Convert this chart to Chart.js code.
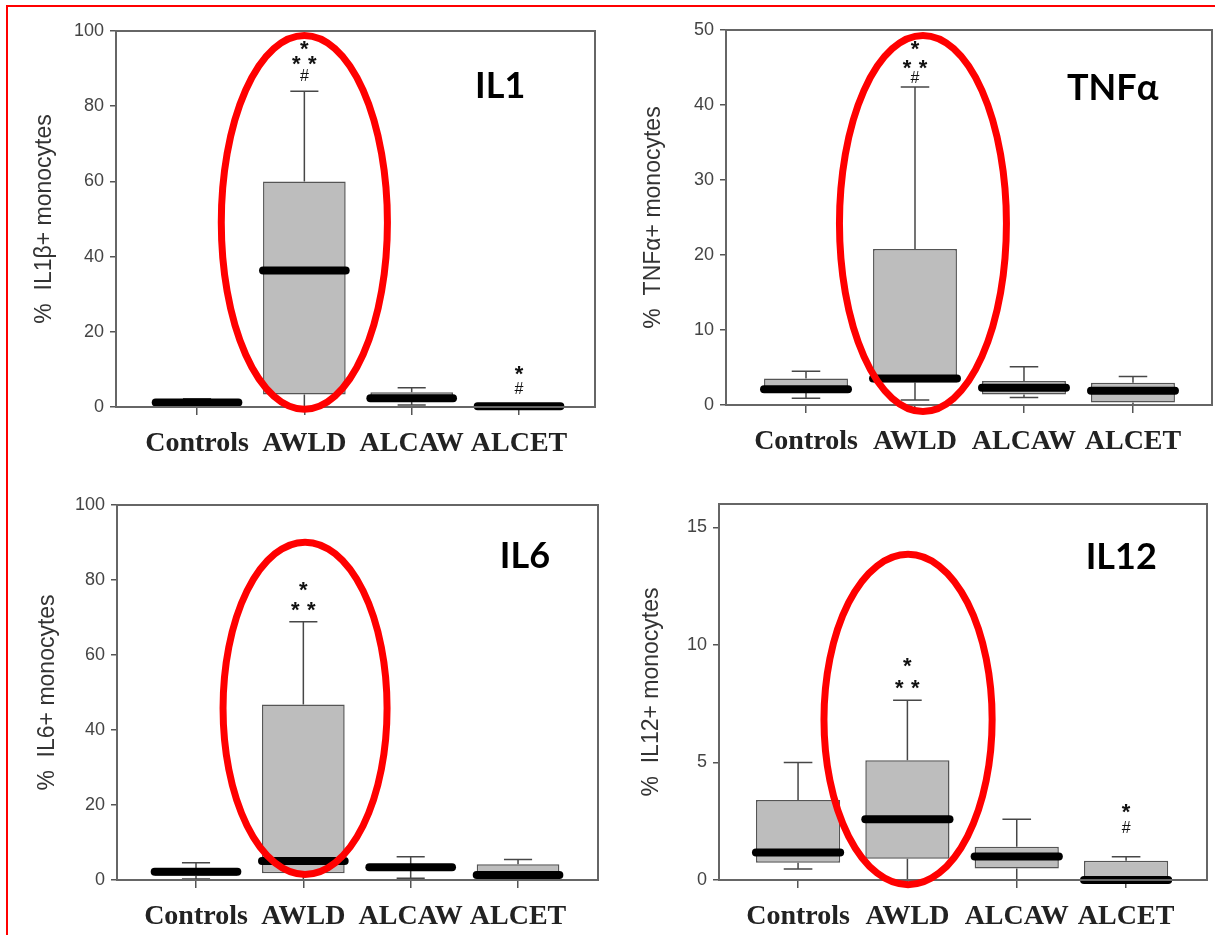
<!DOCTYPE html>
<html>
<head>
<meta charset="utf-8">
<script src="https://cdn.jsdelivr.net/npm/chart.js@4.4.0/dist/chart.umd.min.js"></script>
<style>
  html, body { margin: 0; padding: 0; background: #fff; }
  body { width: 1215px; height: 935px; position: relative; overflow: hidden; }
  canvas { position: absolute; }
  .red-frame { position: absolute; left: 6px; top: 5px; width: 1230px; height: 950px;
    border-top: 2px solid #ff0000; border-left: 2px solid #ff0000; pointer-events: none; }
</style>
</head>
<body>
<canvas id="il1" width="610" height="470" style="left:0;top:0"></canvas>
<canvas id="tnf" width="605" height="470" style="left:610px;top:0"></canvas>
<canvas id="il6" width="610" height="465" style="left:0;top:470px"></canvas>
<canvas id="il12" width="605" height="465" style="left:610px;top:470px"></canvas>
<div class="red-frame"></div>
<script>
const categories = ["Controls", "AWLD", "ALCAW", "ALCET"];

// IL1beta
const il1Min = [0.3, 0, 0.5, 0];
const il1Q1 = [0.6, 3.3, 1.4, 0];
const il1Median = [1.2, 36.3, 2.3, 0.2];
const il1Q3 = [1.8, 60, 3.9, 0.5];
const il1Max = [2.2, 84, 5.1, 0.6];
const il1Ticks = [0, 20, 40, 60, 80, 100];
const il1MarkX = [2, 2, 2, 4, 4];
const il1MarkY = [96.7, 92.7, 88.3, 10.4, 5.05];
const il1MarkText = ["*", "**", "#", "*", "#"];

// TNF alpha
const tnfMin = [0.9, 0.66, 1.0, 0];
const tnfQ1 = [1.6, 3.0, 1.4, 0.35];
const tnfMedian = [2.1, 3.55, 2.3, 1.9];
const tnfQ3 = [3.55, 20.8, 3.2, 2.97];
const tnfMax = [4.5, 42.4, 5.1, 3.8];
const tnfTicks = [0, 10, 20, 30, 40, 50];
const tnfMarkX = [2, 2, 2];
const tnfMarkY = [48.3, 45.7, 43.7];
const tnfMarkText = ["*", "**", "#"];

// IL6
const il6Min = [0.3, 0, 0.45, 0];
const il6Q1 = [1.15, 1.8, 2.7, 0.3];
const il6Median = [2.2, 5.07, 3.4, 1.33];
const il6Q3 = [3.1, 46.8, 4.0, 4.2];
const il6Max = [4.6, 68.9, 6.2, 5.5];
const il6Ticks = [0, 20, 40, 60, 80, 100];
const il6MarkX = [2, 2];
const il6MarkY = [78.9, 73.5];
const il6MarkText = ["*", "**"];

// IL12
const il12Min = [0.47, 0, 0, 0];
const il12Q1 = [0.73, 0.9, 0.49, 0];
const il12Median = [1.17, 2.59, 1.0, 0];
const il12Q3 = [3.4, 5.1, 1.41, 0.82];
const il12Max = [5.0, 7.65, 2.58, 0.99];
const il12Ticks = [0, 5, 10, 15];
const il12MarkX = [2, 2, 4, 4];
const il12MarkY = [9.38, 8.42, 3.14, 2.25];
const il12MarkText = ["*", "**", "*", "#"];

const panels = [
  {
    id: "il1", label: "IL1", yTitle: "%  IL1β+ monocytes", yMax: 100, ticks: il1Ticks,
    min: il1Min, q1: il1Q1, median: il1Median, q3: il1Q3, max: il1Max,
    markX: il1MarkX, markY: il1MarkY, markText: il1MarkText,
    labelAt: [3.59, 82.2], ellipse: [2.0, 49.1, 0.774, 49.7],
    xMin: 0.245, xMax: 4.708,
    layout: { top: 31, right: 15, yWidth: 116, xHeight: 63, titlePad: 31 },
  },
  {
    id: "tnf", label: "TNFα", yTitle: "%  TNFα+ monocytes", yMax: 50, ticks: tnfTicks,
    min: tnfMin, q1: tnfQ1, median: tnfMedian, q3: tnfQ3, max: tnfMax,
    markX: tnfMarkX, markY: tnfMarkY, markText: tnfMarkText,
    labelAt: [3.394, 40.7], ellipse: [2.073, 24.2, 0.766, 25.07],
    xMin: 0.266, xMax: 4.725,
    layout: { top: 30, right: 3, yWidth: 116, xHeight: 65, titlePad: 30 },
  },
  {
    id: "il6", label: "IL6", yTitle: "%  IL6+ monocytes", yMax: 100, ticks: il6Ticks,
    min: il6Min, q1: il6Q1, median: il6Median, q3: il6Q3, max: il6Max,
    markX: il6MarkX, markY: il6MarkY, markText: il6MarkText,
    labelAt: [3.83, 83.2], ellipse: [2.016, 45.8, 0.764, 44.3],
    xMin: 0.264, xMax: 4.745,
    layout: { top: 35, right: 12, yWidth: 117, xHeight: 55, titlePad: 34 },
  },
  {
    id: "il12", label: "IL12", yTitle: "%  IL12+ monocytes", yMax: 16, ticks: il12Ticks,
    min: il12Min, q1: il12Q1, median: il12Median, q3: il12Q3, max: il12Max,
    markX: il12MarkX, markY: il12MarkY, markText: il12MarkText,
    labelAt: [3.63, 13.25], ellipse: [2.006, 6.83, 0.769, 7.03],
    xMin: 0.277, xMax: 4.74,
    layout: { top: 34, right: 8, yWidth: 109, xHeight: 55, titlePad: 28 },
  },
];

function boxPlotPlugin(p) {
  return {
    id: "boxplot_" + p.id,
    beforeDatasetsDraw(chart) {
      const { ctx, scales: { x, y } } = chart;
      const bars = chart.getDatasetMeta(0).data;
      ctx.save();
      ctx.strokeStyle = "#474747";
      ctx.lineWidth = 1.5;
      categories.forEach((c, i) => {
        const px = x.getPixelForValue(i + 1);
        const half = bars[i].width * 0.17;
        ctx.beginPath();
        ctx.moveTo(px, y.getPixelForValue(p.max[i]));
        ctx.lineTo(px, y.getPixelForValue(p.q3[i]));
        ctx.moveTo(px, y.getPixelForValue(p.q1[i]));
        ctx.lineTo(px, y.getPixelForValue(p.min[i]));
        ctx.moveTo(px - half, y.getPixelForValue(p.max[i]));
        ctx.lineTo(px + half, y.getPixelForValue(p.max[i]));
        ctx.moveTo(px - half, y.getPixelForValue(p.min[i]));
        ctx.lineTo(px + half, y.getPixelForValue(p.min[i]));
        ctx.stroke();
      });
      ctx.restore();
    },
    afterDatasetsDraw(chart) {
      const { ctx, scales: { y } } = chart;
      const bars = chart.getDatasetMeta(0).data;
      ctx.save();
      ctx.strokeStyle = "#000";
      ctx.lineWidth = 8;
      ctx.lineCap = "round";
      categories.forEach((c, i) => {
        const b = bars[i];
        const py = y.getPixelForValue(p.median[i]);
        ctx.beginPath();
        ctx.moveTo(b.x - b.width / 2, py);
        ctx.lineTo(b.x + b.width / 2, py);
        ctx.stroke();
      });
      ctx.restore();
    },
    afterDraw(chart) {
      const { ctx, chartArea: a, scales: { x, y } } = chart;
      ctx.save();
      // plot frame
      ctx.strokeStyle = "#666";
      ctx.lineWidth = 2;
      ctx.strokeRect(a.left, a.top, a.right - a.left, a.bottom - a.top);

      // significance marks
      ctx.fillStyle = "#111";
      ctx.textAlign = "center";
      ctx.textBaseline = "alphabetic";
      p.markText.forEach((t, i) => {
        const px = x.getPixelForValue(p.markX[i]);
        const py = y.getPixelForValue(p.markY[i]);
        if (t === "#") {
          ctx.font = "16px 'Liberation Sans', Arial, sans-serif";
          ctx.fillText(t, px, py + 6);
        } else {
          ctx.font = "bold 22px 'Liberation Sans', Arial, sans-serif";
          if (t.length === 2) {
            ctx.fillText("*", px - 8, py + 13);
            ctx.fillText("*", px + 8, py + 13);
          } else {
            ctx.fillText(t, px, py + 13);
          }
        }
      });

      // panel label
      ctx.fillStyle = "#000";
      ctx.textAlign = "left";
      ctx.font = "bold 36px Lato, 'Noto Sans', sans-serif";
      ctx.fillText(p.label, x.getPixelForValue(p.labelAt[0]), y.getPixelForValue(p.labelAt[1]));

      // red highlight ellipse
      const [cx, cy, rx, ry] = p.ellipse;
      const ex = x.getPixelForValue(cx);
      const ey = y.getPixelForValue(cy);
      const erx = Math.abs(x.getPixelForValue(cx + rx) - ex);
      const ery = Math.abs(y.getPixelForValue(cy + ry) - ey);
      ctx.strokeStyle = "#ff0000";
      ctx.lineWidth = 7;
      ctx.beginPath();
      ctx.ellipse(ex, ey, erx, ery, 0, 0, Math.PI * 2);
      ctx.stroke();
      ctx.restore();
    },
  };
}

function renderPanel(p) {
  const canvas = document.getElementById(p.id);
  return new Chart(canvas, {
    type: "bar",
    data: {
      datasets: [{
        data: categories.map((c, i) => ({ x: i + 1, y: [p.q1[i], p.q3[i]] })),
        backgroundColor: "#bdbdbd",
        borderColor: "#555",
        borderWidth: 1.5,
        borderSkipped: false,
        categoryPercentage: 1,
        barPercentage: 0.77,
      }],
    },
    options: {
      responsive: false,
      animation: false,
      layout: { padding: { top: p.layout.top, right: p.layout.right, left: 0, bottom: 0 } },
      plugins: {
        legend: { display: false },
        tooltip: { enabled: false },
      },
      scales: {
        x: {
          type: "linear",
          min: p.xMin,
          max: p.xMax,
          offset: false,
          afterBuildTicks: (s) => { s.ticks = categories.map((c, i) => ({ value: i + 1 })); },
          afterFit: (s) => { s.height = p.layout.xHeight; },
          grid: { display: true, offset: false, drawOnChartArea: false, drawTicks: true, tickLength: 8, color: "#555", lineWidth: 1.5 },
          border: { display: true, color: "#555", width: 2 },
          ticks: {
            autoSkip: false,
            maxRotation: 0,
            padding: 12,
            color: "#222",
            font: { family: "'Liberation Serif', 'Times New Roman', serif", size: 28, weight: "bold" },
            callback: (v, i) => categories[i],
          },
        },
        y: {
          min: 0,
          max: p.yMax,
          afterBuildTicks: (s) => { s.ticks = p.ticks.map((v) => ({ value: v })); },
          afterFit: (s) => { s.width = p.layout.yWidth; },
          grid: { display: true, drawOnChartArea: false, drawTicks: true, tickLength: 6, color: "#555", lineWidth: 1.5 },
          border: { display: true, color: "#555", width: 2 },
          ticks: {
            padding: 6,
            color: "#444",
            font: { family: "'Liberation Sans', Arial, sans-serif", size: 18 },
          },
          title: {
            display: true,
            text: p.yTitle,
            color: "#333",
            padding: { top: p.layout.titlePad, bottom: 0 },
            font: { family: "'Liberation Sans', Arial, sans-serif", size: 23 },
          },
        },
      },
    },
    plugins: [boxPlotPlugin(p)],
  });
}

panels.forEach(renderPanel);
</script>
</body>
</html>
